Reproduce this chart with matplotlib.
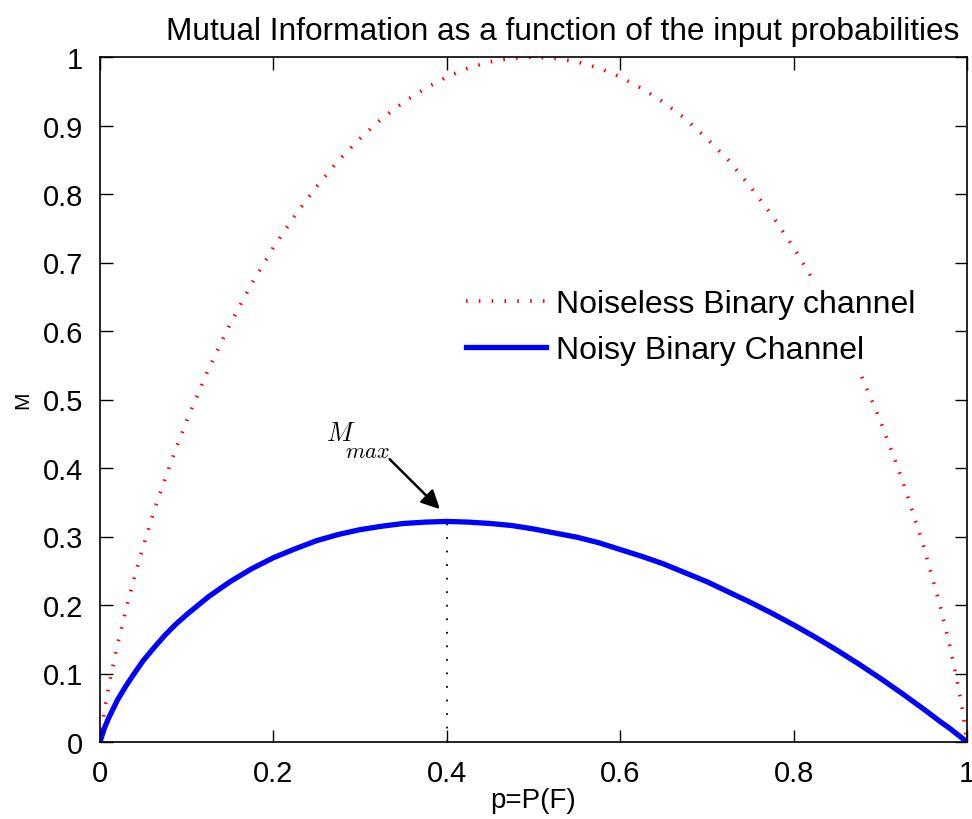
import matplotlib
matplotlib.use("Agg")
import matplotlib.pyplot as plt

# input probability p = P(F)
p_vals = [0.0, 0.005, 0.01, 0.02, 0.03, 0.04, 0.05, 0.0625, 0.075, 0.0875, 0.1, 0.125, 0.15,
          0.175, 0.2, 0.225, 0.25, 0.275, 0.3, 0.325, 0.35, 0.375, 0.4, 0.425, 0.45,
          0.475, 0.5, 0.525, 0.55, 0.575, 0.6, 0.625, 0.65, 0.675, 0.7, 0.725, 0.75,
          0.775, 0.8, 0.825, 0.85, 0.875, 0.9, 0.925, 0.95, 0.97, 0.98, 0.99, 0.995, 1.0]

# noiseless binary channel
noiseless = [0.0, 0.045, 0.081, 0.141, 0.194, 0.242, 0.286, 0.338, 0.384, 0.428, 0.469, 0.544,
             0.610, 0.669, 0.722, 0.769, 0.811, 0.849, 0.881, 0.910, 0.934, 0.954, 0.971, 0.984,
             0.993, 0.998, 1.0, 0.998, 0.993, 0.984, 0.971, 0.954, 0.934, 0.910, 0.881, 0.849,
             0.811, 0.769, 0.722, 0.669, 0.610, 0.544, 0.469, 0.384, 0.286, 0.194, 0.141, 0.081,
             0.045, 0.0]

# noisy binary channel
noisy = [0.0, 0.020, 0.035, 0.061, 0.082, 0.101, 0.119, 0.138, 0.156, 0.172, 0.186, 0.212,
         0.234, 0.253, 0.269, 0.282, 0.294, 0.303, 0.310, 0.315, 0.319, 0.321, 0.322, 0.321,
         0.319, 0.316, 0.311, 0.305, 0.299, 0.291, 0.281, 0.271, 0.260, 0.247, 0.234, 0.219,
         0.204, 0.188, 0.171, 0.153, 0.134, 0.114, 0.093, 0.071, 0.048, 0.029, 0.020, 0.010,
         0.005, 0.0]

p_max = 0.4
m_max = 0.322

plt.rcParams['font.family'] = ['Liberation Sans', 'DejaVu Sans']
plt.rcParams['mathtext.fontset'] = 'cm'

fig = plt.figure(figsize=(9.72, 8.2), dpi=100)
ax = fig.add_axes([100 / 972, 77 / 820, 867 / 972, 685 / 820])

# noiseless: MATLAB-like dotted line (short ticks across the curve)
ax.plot(p_vals, noiseless, color='red', linewidth=2.6, dashes=(0.45, 3.1),
        dash_capstyle='butt', label='Noiseless Binary channel')
ax.plot(p_vals, noisy, color='blue', linewidth=3.8, label='Noisy Binary Channel',
        solid_joinstyle='round')

# vertical dotted line at the maximum
ax.plot([p_max, p_max], [0, m_max], color='black', linewidth=1.3, dashes=(1, 6.5))

ax.annotate('', xy=(0.392, 0.340), xytext=(0.334, 0.413),
            arrowprops=dict(arrowstyle='-|>', color='black', lw=1.8, mutation_scale=28,
                            shrinkA=0, shrinkB=0))
ax.text(0.261, 0.441, r'$M$', fontsize=19, ha='left', va='baseline')
ax.text(0.283, 0.416, r'$max$', fontsize=16, ha='left', va='baseline')

ax.set_xlim(0, 1)
ax.set_ylim(0, 1)
ax.set_xticks([0, 0.2, 0.4, 0.6, 0.8, 1])
ax.set_xticklabels(['0', '0.2', '0.4', '0.6', '0.8', '1'])
ax.set_yticks([i / 10 for i in range(11)])
ax.set_yticklabels(['0'] + ['0.%d' % i for i in range(1, 10)] + ['1'])
ax.tick_params(direction='in', length=9, width=1, labelsize=21, top=True, right=True, pad=12)
for s in ax.spines.values():
    s.set_linewidth(1.2)

ax.set_xlabel('p=P(F)', fontsize=20, labelpad=0)
ax.set_ylabel('M', fontsize=15, labelpad=8)
ax.set_title('Mutual Information as a function of the input probabilities',
             fontsize=22.8, x=0.534, pad=13)

leg = ax.legend(loc='upper left', bbox_to_anchor=(0.409, 0.678), fontsize=23,
                frameon=True, fancybox=False, edgecolor='none', facecolor='white',
                framealpha=1, handlelength=2.5, handletextpad=0.31,
                labelspacing=0.5, borderpad=0.35, borderaxespad=0)

fig.savefig('out.png', dpi=100)
